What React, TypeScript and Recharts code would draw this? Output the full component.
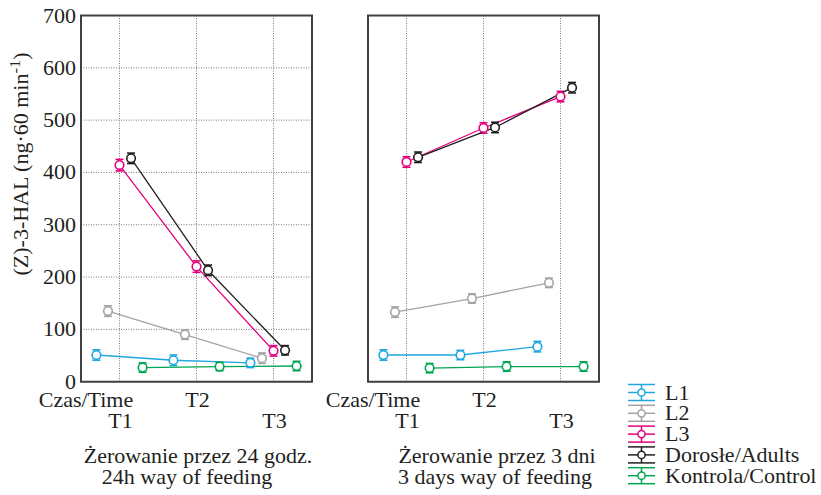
import React from 'react'
import { LineChart, Line, XAxis, YAxis, CartesianGrid, ErrorBar, ReferenceArea } from 'recharts'

const timeLabels = ['T1', 'T2', 'T3']
const seriesNames = ['L1', 'L2', 'L3', 'Dorosłe/Adults', 'Kontrola/Control']
const yTicks = [0, 100, 200, 300, 400, 500, 600, 700]

// 24 h feeding
const feed24L1 = [51, 41, 36]
const feed24L2 = [135, 90, 45]
const feed24L3 = [414, 220, 59]
const feed24Adults = [427, 213, 60]
const feed24Control = [27, 29, 30]
const feed24ErrL1 = [10, 10, 9]
const feed24ErrL2 = [10, 9, 10]
const feed24ErrL3 = [11, 11, 10]
const feed24ErrAdults = [10, 10, 9]
const feed24ErrControl = [9, 8, 9]

// 3 days feeding
const feed3dL1 = [51, 51, 67]
const feed3dL2 = [133, 159, 189]
const feed3dL3 = [420, 485, 545]
const feed3dAdults = [429, 486, 562]
const feed3dControl = [26, 29, 29]
const feed3dErrL1 = [10, 9, 10]
const feed3dErrL2 = [10, 9, 9]
const feed3dErrL3 = [10, 10, 10]
const feed3dErrAdults = [10, 10, 10]
const feed3dErrControl = [9, 9, 9]

const colors = ['#1ea7e1', '#a3a3a3', '#e6007e', '#231f20', '#00a651']
const jitter = [-0.3, -0.15, 0, 0.15, 0.3]
const font = "'Liberation Serif', 'Times New Roman', Times, serif"
const textColor = '#231f20'
const textStyle = { fontFamily: font, fontSize: 20, fill: textColor }
const stretch = 1.1

// serif text, slightly widened like the original typesetting
function SText({ x, y, anchor = 'start', rotate = 0, children }: any) {
  return (
    <text
      x={0}
      y={0}
      transform={`translate(${x} ${y}) rotate(${rotate}) scale(${stretch} 1)`}
      textAnchor={anchor}
      style={textStyle}
    >
      {children}
    </text>
  )
}

function buildSeries(values: number[][], errors: number[][]) {
  return values.map((vals, s) =>
    vals.map((v, i) => ({ x: i + 1 + jitter[s], y: v, e: errors[s][i] }))
  )
}

const series24 = buildSeries(
  [feed24L1, feed24L2, feed24L3, feed24Adults, feed24Control],
  [feed24ErrL1, feed24ErrL2, feed24ErrL3, feed24ErrAdults, feed24ErrControl]
)
const series3d = buildSeries(
  [feed3dL1, feed3dL2, feed3dL3, feed3dAdults, feed3dControl],
  [feed3dErrL1, feed3dErrL2, feed3dErrL3, feed3dErrAdults, feed3dErrControl]
)

function YTick(props: any) {
  const { y, payload } = props
  return (
    <SText x={76} y={y + 7} anchor="end">
      {payload.value}
    </SText>
  )
}

function XTick(props: any) {
  const { x, payload } = props
  const upper = payload.value === 2
  return (
    <SText x={x + 1} y={upper ? 407 : 428} anchor="middle">
      {timeLabels[payload.value - 1]}
    </SText>
  )
}

function NoTick() {
  return <g />
}

function Caption({ lines }: { lines: { text: string; cx: number }[] }) {
  return (
    <g>
      <SText x={86} y={407} anchor="middle">Czas/Time</SText>
      {lines.map((l, i) => (
        <SText key={i} x={l.cx} y={463 + i * 21} anchor="middle">
          {l.text}
        </SText>
      ))}
    </g>
  )
}

function AxisTitle() {
  return (
    <SText x={28} y={164} anchor="middle" rotate={-90}>
      (Z)-3-HAL (ng·60 min
      <tspan dy={-8} style={{ fontSize: 15 }}>-1</tspan>
      <tspan dy={8}>)</tspan>
    </SText>
  )
}

interface PanelProps {
  left: number
  data: { x: number; y: number; e: number }[][]
  showValues: boolean
  lines: { text: string; cx: number }[]
}

function Panel({ left, data, showValues, lines }: PanelProps) {
  return (
    <div style={{ position: 'absolute', left, top: 0 }}>
      <LineChart width={330} height={495} margin={{ top: 15.5, right: 18, bottom: 83.3, left: 31 }}>
        <CartesianGrid yAxisId="v" stroke="#7a7a7a" strokeDasharray="1 1.5" />
        <XAxis
          dataKey="x"
          type="number"
          domain={[0.5, 3.5]}
          ticks={[1, 2, 3]}
          allowDataOverflow
          height={30}
          axisLine={false}
          tickLine={false}
          tick={<XTick />}
          label={<Caption lines={lines} />}
        />
        <YAxis
          yAxisId="v"
          type="number"
          domain={[0, 700]}
          ticks={yTicks}
          width={50}
          axisLine={false}
          tickLine={false}
          tick={showValues ? <YTick /> : false}
          label={showValues ? <AxisTitle /> : undefined}
        />
        <YAxis
          yAxisId="r"
          orientation="right"
          type="number"
          domain={[0, 800]}
          ticks={[100, 200, 300, 400, 500, 600, 700]}
          width={0}
          mirror
          axisLine={false}
          tickSize={4}
          tickLine={{ stroke: '#333', strokeWidth: 1.5 }}
          tick={<NoTick />}
        />
        <ReferenceArea
          yAxisId="v"
          x1={0.5}
          x2={3.5}
          y1={0}
          y2={700}
          fill="none"
          fillOpacity={0}
          stroke="#404040"
          strokeWidth={2}
          ifOverflow="visible"
        />
        {data.map((pts, s) => (
          <Line
            key={seriesNames[s]}
            yAxisId="v"
            data={pts}
            dataKey="y"
            name={seriesNames[s]}
            stroke={colors[s]}
            strokeWidth={1.3}
            dot={{ r: 4.3, fill: '#fff', stroke: colors[s], strokeWidth: 1.6 }}
            activeDot={false}
            isAnimationActive={false}
          >
            <ErrorBar dataKey="e" direction="y" width={4} stroke={colors[s]} strokeWidth={1.6} />
          </Line>
        ))}
      </LineChart>
    </div>
  )
}

function LegendBox() {
  return (
    <svg width={200} height={110} style={{ position: 'absolute', left: 620, top: 380 }}>
      {seriesNames.map((name, i) => {
        const cy = 12.5 + i * 20.8
        const c = colors[i]
        return (
          <g key={name}>
            <line x1={8} x2={35} y1={cy - 8} y2={cy - 8} stroke={c} strokeWidth={1.5} />
            <line x1={8} x2={35} y1={cy} y2={cy} stroke={c} strokeWidth={1.5} />
            <line x1={8} x2={35} y1={cy + 8} y2={cy + 8} stroke={c} strokeWidth={1.5} />
            <line x1={21.5} x2={21.5} y1={cy - 8} y2={cy + 8} stroke={c} strokeWidth={1.5} />
            <circle cx={21.5} cy={cy} r={3.6} fill="#fff" stroke={c} strokeWidth={1.5} />
            <SText x={45} y={cy + 7}>
              {name}
            </SText>
          </g>
        )
      })}
    </svg>
  )
}

export default function App() {
  return (
    <div style={{ position: 'absolute', left: 0, top: 0, width: 821, height: 495, background: '#fff' }}>
      <Panel
        left={0}
        data={series24}
        showValues
        lines={[
          { text: 'Żerowanie przez 24 godz.', cx: 198 },
          { text: '24h way of feeding', cx: 187 },
        ]}
      />
      <Panel
        left={287}
        data={series3d}
        showValues={false}
        lines={[
          { text: 'Żerowanie przez 3 dni', cx: 210 },
          { text: '3 days way of feeding', cx: 208 },
        ]}
      />
      <LegendBox />
    </div>
  )
}
